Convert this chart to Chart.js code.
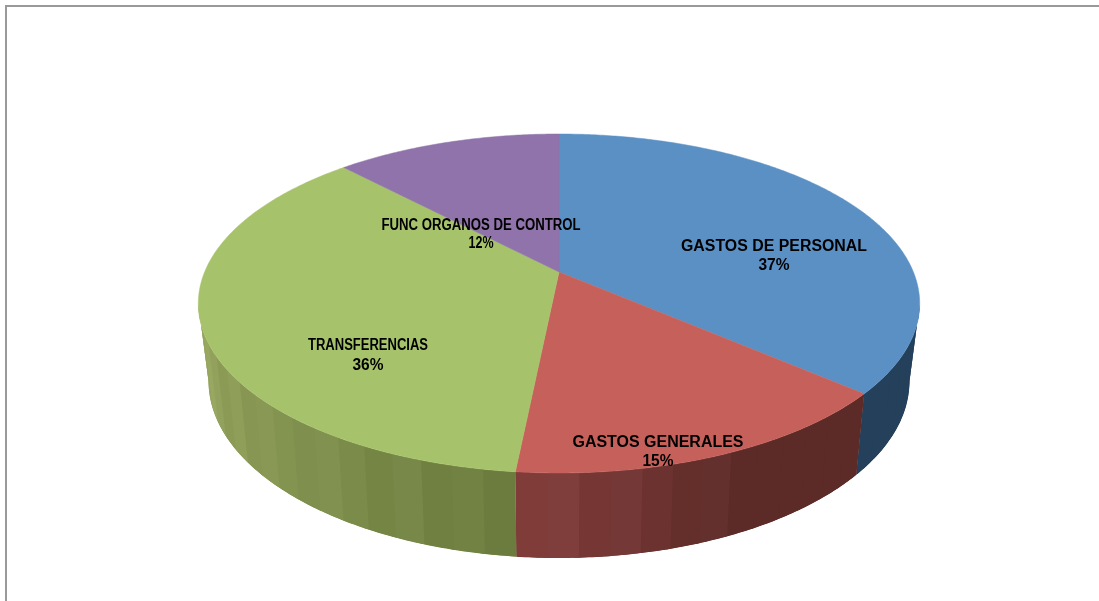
<!DOCTYPE html>
<html>
<head>
<meta charset="utf-8">
<style>
  html, body { margin: 0; padding: 0; background: #fff; overflow: hidden; }
  canvas { display: block; }
</style>
<script src="https://cdn.jsdelivr.net/npm/chart.js@4/dist/chart.umd.js"></script>
</head>
<body>
<canvas id="chart" width="1099" height="601"></canvas>
<script>
const categories = ['GASTOS DE PERSONAL', 'GASTOS GENERALES', 'TRANSFERENCIAS', 'FUNC ORGANOS DE CONTROL'];
const shares = [36.35, 15.25, 36.3, 12.1];
const percentLabels = ['37%', '15%', '36%', '12%'];
const topColors = ['#5b90c5', '#c6605b', '#a6c36b', '#8f73aa'];

// side wall shading per slice: colour at from-angle, colour at to-angle (degrees on the arc)
const wallFrom = [[36, 64, 91], [92, 42, 39], [106, 123, 61], [36, 30, 60]];
const wallTo = [[36, 64, 91], [133, 64, 62], [156, 171, 99], [36, 30, 60]];
const wallAngles = [[0, 90], [66, 96], [96, 170], [0, 90]];
const bandTint = [0, 3, -2, 3, -3, 1, 4, -1];

// label boxes: centre and width of name line, width of percent line
const labelPos = [[774, 247, 186, 266, 31], [658, 443, 171, 462, 31], [368, 346, 120, 366, 31], [481, 226, 199, 244, 25]];

// perspective of the flat pie, top face and bottom face
const centerX = 559;
const topFace = { s: 354.4, c: -0.1858, a: 113.1, b: 272 };
const bottomFace = { s: 344, c: -0.191, a: 103.8, b: 347.6 };

function project(face, angle) {
  const u = Math.cos(angle);
  const v = Math.sin(angle);
  const d = 1 + face.c * v;
  return [centerX + face.s * u / d, (face.a * v + face.b) / d];
}

function tracePath(ctx, pts) {
  ctx.beginPath();
  pts.forEach((p, i) => (i ? ctx.lineTo(p[0], p[1]) : ctx.moveTo(p[0], p[1])));
  ctx.closePath();
}

// outline of the wall between two angles, top edge out and bottom edge back
function wallPoints(a0, a1) {
  const n = Math.max(2, Math.ceil((a1 - a0) / 0.01));
  const top = [];
  const bottom = [];
  for (let k = 0; k <= n; k++) {
    const a = a0 + (a1 - a0) * k / n;
    top.push(project(topFace, a));
    bottom.unshift(project(bottomFace, a));
  }
  return top.concat(bottom);
}

function wallColor(i, angle, band) {
  const range = wallAngles[i];
  const deg = angle * 180 / Math.PI;
  const t = Math.min(1, Math.max(0, (deg - range[0]) / (range[1] - range[0])));
  const tint = t === 0 || i === 0 ? 0 : bandTint[band % bandTint.length];
  const rgb = wallFrom[i].map((c, k) => Math.round(c + (wallTo[i][k] - c) * t + tint));
  return 'rgb(' + rgb.join(',') + ')';
}

const pie3d = {
  id: 'pie3d',
  // the arcs keep the angles Chart.js worked out, only the drawing is projected
  beforeDatasetDraw(chart) {
    const ctx = chart.ctx;
    const arcs = chart.getDatasetMeta(0).data;
    const step = 4.4 * Math.PI / 180;
    // where the rim turns away from the viewer
    const rimTurn = 0.19;

    ctx.save();
    arcs.forEach((arc, i) => {
      let from = arc.startAngle;
      let to = arc.endAngle;
      while (from < to && Math.sin(from) < rimTurn) from += 0.002;
      while (to > from && Math.sin(to) < rimTurn) to -= 0.002;
      if (to <= from) return;

      ctx.save();
      tracePath(ctx, wallPoints(from, to));
      ctx.fillStyle = wallColor(i, (from + to) / 2, 0);
      ctx.fill();
      ctx.clip();
      const n = Math.ceil((to - from) / step);
      for (let k = 0; k < n; k++) {
        const a0 = from + (to - from) * k / n;
        const a1 = from + (to - from) * (k + 1.15) / n;
        tracePath(ctx, wallPoints(a0, a1));
        ctx.fillStyle = wallColor(i, (a0 + a1) / 2, k);
        ctx.fill();
      }
      ctx.restore();
    });
    arcs.forEach((arc) => {
      const pts = [[centerX, topFace.b]];
      const n = Math.ceil((arc.endAngle - arc.startAngle) / 0.01);
      for (let k = 0; k <= n; k++) {
        pts.push(project(topFace, arc.startAngle + (arc.endAngle - arc.startAngle) * k / n));
      }
      tracePath(ctx, pts);
      ctx.fillStyle = arc.options.backgroundColor;
      ctx.strokeStyle = arc.options.backgroundColor;
      ctx.lineWidth = 0.5;
      ctx.fill();
      ctx.stroke();
    });
    ctx.restore();
    return false;
  },
  afterDraw(chart) {
    const ctx = chart.ctx;
    ctx.save();
    // chart frame
    ctx.strokeStyle = '#999999';
    ctx.lineWidth = 2;
    ctx.beginPath();
    ctx.moveTo(6, 601);
    ctx.lineTo(6, 6);
    ctx.lineTo(1099, 6);
    ctx.stroke();

    ctx.fillStyle = '#000000';
    ctx.textAlign = 'center';
    ctx.textBaseline = 'middle';
    ctx.font = 'bold 16px "Liberation Sans", Arial, sans-serif';
    const line = (text, x, y, width) => {
      ctx.save();
      ctx.translate(x, y);
      ctx.scale(width / ctx.measureText(text).width, 1);
      ctx.fillText(text, 0, 0);
      ctx.restore();
    };
    categories.forEach((name, i) => {
      const p = labelPos[i];
      line(name, p[0], p[1], p[2]);
      line(percentLabels[i], p[0], p[3], p[4]);
    });
    ctx.restore();
  }
};

new Chart(document.getElementById('chart').getContext('2d'), {
  type: 'pie',
  data: {
    labels: categories,
    datasets: [{ data: shares, backgroundColor: topColors, borderWidth: 0 }]
  },
  options: {
    responsive: false,
    animation: false,
    plugins: { legend: { display: false }, tooltip: { enabled: false } }
  },
  plugins: [pie3d]
});
</script>
</body>
</html>
